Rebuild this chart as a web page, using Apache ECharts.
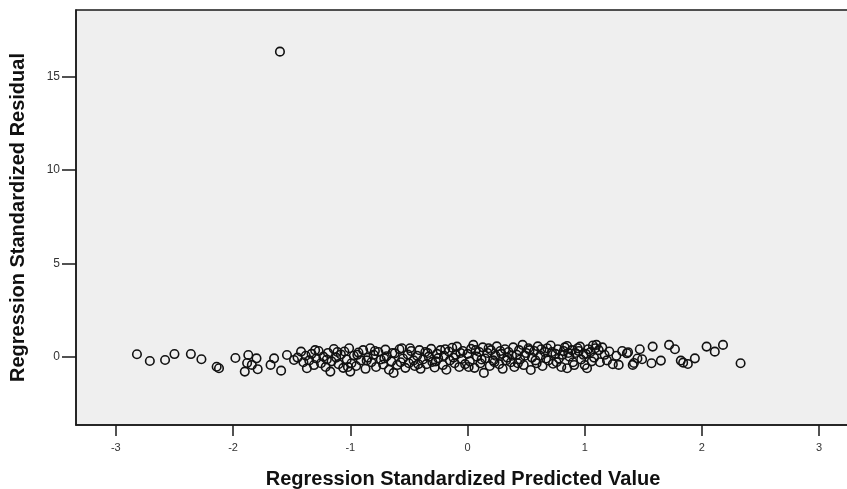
<!DOCTYPE html>
<html>
<head>
<meta charset="utf-8">
<script src="https://cdn.jsdelivr.net/npm/echarts@6/dist/echarts.min.js"></script>
<style>html,body{margin:0;padding:0;background:#fff}#c{width:847px;height:489px}</style>
</head>
<body>
<div id="c"></div>
<script>
var xTicks = [-3, -2, -1, 0, 1, 2, 3];
var yTicks = [0, 5, 10, 15];
var xTitle = 'Regression Standardized Predicted Value';
var yTitle = 'Regression Standardized Residual';

var predicted = [
  -2.82,-2.71,-2.58,-2.50,-2.36,-2.27,-2.14,-2.12,-1.98,-1.90,-1.87,-1.88,-1.80,-1.79,-1.84,-1.68,-1.65,-1.59,-1.54,-1.48,
  -1.45,-1.42,-1.40,-1.38,-1.37,-1.35,-1.33,-1.31,-1.29,-1.27,
  -1.25,-1.23,-1.21,-1.19,-1.17,-1.16,-1.14,-1.12,-1.10,-1.08,
  -1.06,-1.05,-1.03,-1.01,-1.00,-0.99,-0.97,-0.95,-0.93,-0.91,
  -0.89,-0.87,-0.85,-0.83,-0.82,-0.80,-0.78,-0.76,-0.74,-0.72,
  -0.70,-0.69,-0.67,-0.65,-0.63,-0.62,-0.60,-0.58,-0.56,-0.55,
  -0.53,-0.51,-0.50,-0.48,-0.46,-0.45,-0.43,-0.41,-0.40,-0.38,
  -0.36,-0.35,-0.33,-0.31,-0.30,-0.28,-0.26,-0.25,-0.23,-0.21,
  -0.20,-0.18,-0.16,-0.15,-0.13,-0.11,-0.10,-0.09,-0.07,-0.05,
  -0.04,-0.02,0.00,0.02,0.03,0.05,0.06,0.08,0.10,0.11,
  0.13,0.14,0.15,0.17,0.19,0.20,0.22,0.24,0.25,0.27,
  0.29,0.30,0.32,0.34,0.35,0.37,0.39,0.40,0.42,0.44,
  0.45,0.47,0.48,0.50,0.52,0.54,0.55,0.57,0.59,0.60,
  0.62,0.64,0.66,0.68,0.69,0.71,0.73,0.75,0.77,0.78,
  0.80,0.82,0.83,0.85,0.85,0.87,0.89,0.90,0.92,0.94,
  0.96,0.97,0.99,1.00,1.02,1.03,1.05,1.07,1.08,1.10,
  1.12,1.13,1.15,1.17,1.19,1.21,1.24,1.27,1.29,1.32,1.36,1.42,1.45,
  -1.30,-1.20,-1.11,-1.02,-0.94,-0.86,-0.79,-0.71,-0.64,-0.57,
  -0.49,-0.42,-0.34,-0.27,-0.19,-0.12,-0.06,0.01,0.07,0.12,
  0.18,0.23,0.28,0.33,0.38,0.43,0.49,0.53,0.58,0.63,
  0.67,0.72,0.76,0.81,0.86,0.91,0.95,1.01,1.06,1.09,
  1.37,1.41,1.47,1.49,1.58,1.57,1.65,1.72,1.77,1.82,1.84,1.88,1.94,2.04,2.11,2.18,2.33,
  -1.60
];
var residual = [
  0.13,-0.23,-0.18,0.14,0.14,-0.14,-0.54,-0.62,-0.07,-0.80,0.09,-0.34,-0.09,-0.67,-0.44,-0.44,-0.09,-0.75,0.09,-0.18,
  -0.05,0.27,-0.30,0.05,-0.62,-0.20,0.15,-0.45,-0.10,0.30,
  -0.35,0.00,-0.55,0.20,-0.80,-0.25,0.41,-0.05,-0.40,0.12,
  -0.60,0.28,-0.15,0.45,-0.80,-0.35,0.05,-0.50,0.22,-0.20,
  0.35,-0.65,-0.05,0.45,-0.30,0.10,-0.55,0.25,-0.15,-0.42,
  0.38,0.02,-0.70,-0.25,-0.87,0.18,-0.45,0.40,0.45,-0.10,
  -0.60,0.12,-0.35,0.30,-0.20,-0.50,0.05,0.35,-0.65,-0.15,
  0.25,-0.40,0.00,0.42,-0.28,-0.58,0.15,-0.08,0.35,-0.45,
  0.05,-0.70,0.28,-0.20,0.48,-0.35,0.10,0.54,-0.55,-0.12,
  0.30,-0.40,0.15,-0.25,0.42,0.63,-0.60,0.00,0.25,-0.35,
  0.50,-0.87,-0.10,0.20,-0.50,0.35,-0.20,0.05,0.55,-0.40,
  0.15,-0.65,0.40,-0.05,0.25,-0.30,0.50,-0.55,0.10,0.35,
  -0.15,0.63,-0.45,0.20,0.45,-0.71,-0.05,0.30,-0.35,0.55,
  0.05,-0.50,0.25,0.45,-0.20,0.60,-0.38,0.15,0.40,-0.10,
  -0.55,0.30,0.50,0.57,-0.62,0.00,0.35,-0.30,0.20,0.45,
  0.54,-0.15,0.10,-0.45,-0.62,0.40,0.25,0.60,-0.05,0.63,
  0.35,-0.30,0.50,0.10,-0.20,0.28,-0.40,0.05,-0.44,0.30,0.18,-0.34,-0.10,
  0.35,-0.15,0.25,-0.55,0.10,-0.20,0.30,-0.10,0.20,-0.30,
  0.45,-0.40,0.20,-0.25,0.40,-0.05,0.20,-0.55,0.35,-0.15,
  0.45,-0.30,0.30,-0.20,0.05,-0.35,0.05,0.35,-0.20,0.40,
  -0.10,0.25,-0.30,0.10,0.20,-0.45,0.30,0.15,-0.25,0.45,
  0.24,-0.44,0.40,-0.14,0.54,-0.35,-0.21,0.63,0.40,-0.21,-0.32,-0.39,-0.09,0.54,0.27,0.63,-0.35,
  16.34
];

var points = predicted.map(function (x, i) { return [x, residual[i]]; });

var chart = echarts.init(document.getElementById('c'), null, { renderer: 'canvas' });
var sans = "'Liberation Sans', Arial, sans-serif";
chart.setOption({
  animation: false,
  backgroundColor: '#ffffff',
  grid: {
    left: 76, top: 10, bottom: 64, right: -19,
    outerBoundsMode: 'none', containLabel: false,
    show: true, backgroundColor: '#efefef', borderColor: '#1a1a1a', borderWidth: 1.5
  },
  xAxis: {
    type: 'value', min: -3.34, max: 3.4,
    name: xTitle, nameLocation: 'middle', nameGap: 44,
    nameTextStyle: { fontFamily: sans, fontWeight: 'bold', fontSize: 20, color: '#111', padding: [0, 16, 0, 0] },
    axisLine: { show: true, onZero: false, lineStyle: { color: '#1a1a1a', width: 1.5 } },
    axisTick: { show: true, inside: false, length: 11, customValues: xTicks, lineStyle: { color: '#1a1a1a', width: 1.5 } },
    axisLabel: { customValues: xTicks, margin: 17, fontSize: 11, fontFamily: sans, color: '#333' },
    splitLine: { show: false }
  },
  yAxis: {
    type: 'value', min: -3.66, max: 18.57,
    name: yTitle, nameLocation: 'middle', nameGap: 48, nameRotate: 90,
    nameTextStyle: { fontFamily: sans, fontWeight: 'bold', fontSize: 20, color: '#111' },
    axisLine: { show: true, onZero: false, lineStyle: { color: '#1a1a1a', width: 1.5 } },
    axisTick: { show: true, inside: false, length: 14, customValues: yTicks, lineStyle: { color: '#1a1a1a', width: 1.5 } },
    axisLabel: { customValues: yTicks, margin: 16, fontSize: 12, fontFamily: sans, color: '#333' },
    splitLine: { show: false }
  },
  series: [{
    type: 'scatter',
    data: points,
    symbol: 'circle',
    symbolSize: 8.5,
    itemStyle: { color: 'rgba(0,0,0,0)', borderColor: '#111', borderWidth: 1.6, opacity: 1 }
  }]
});
</script>
</body>
</html>
